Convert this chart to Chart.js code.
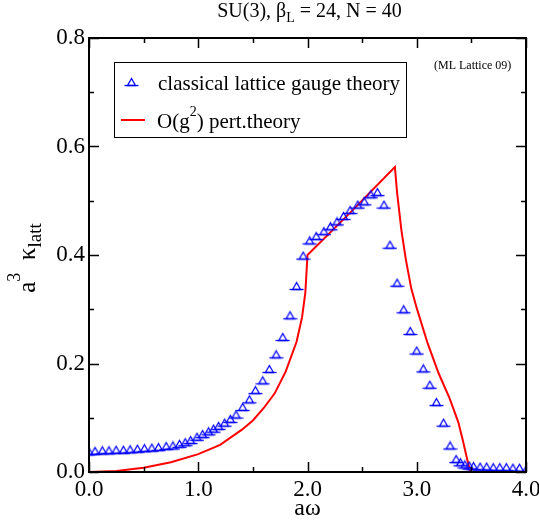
<!DOCTYPE html>
<html>
<head>
<meta charset="utf-8">
<script src="https://cdn.jsdelivr.net/npm/chart.js@4.4.1/dist/chart.umd.min.js"></script>
<style>
  html, body { margin: 0; padding: 0; background: #fff; }
  #wrap { width: 539px; height: 523px; position: relative; }
</style>
</head>
<body>
<div id="wrap"><canvas id="c" width="539" height="523"></canvas></div>
<script>
// Classical lattice gauge theory: frequency aω and a^3 κ_latt
const latticeOmega = [
  0.000, 0.055, 0.122, 0.183, 0.248, 0.315, 0.376, 0.443, 0.507, 0.575,
  0.636, 0.706, 0.768, 0.828, 0.881, 0.930, 0.988, 1.040, 1.094, 1.140,
  1.186, 1.241, 1.294, 1.346, 1.407, 1.468, 1.523, 1.590, 1.651, 1.713,
  1.774, 1.840, 1.900, 1.960, 2.020, 2.080, 2.150, 2.210, 2.270, 2.330,
  2.390, 2.460, 2.520, 2.580, 2.640, 2.700, 2.755, 2.820, 2.880, 2.940,
  3.000, 3.060, 3.120, 3.180, 3.245, 3.305, 3.360, 3.400, 3.440, 3.480,
  3.520, 3.580, 3.640, 3.700, 3.760, 3.820, 3.880, 3.940, 4.000
];
const latticeKappa = [
  0.037, 0.038, 0.039, 0.039, 0.040, 0.040, 0.041, 0.042, 0.043, 0.044,
  0.045, 0.047, 0.048, 0.051, 0.054, 0.058, 0.064, 0.069, 0.074, 0.079,
  0.084, 0.090, 0.097, 0.105, 0.119, 0.133, 0.150, 0.168, 0.189, 0.216,
  0.248, 0.288, 0.342, 0.398, 0.426, 0.434, 0.443, 0.452, 0.461, 0.471,
  0.482, 0.492, 0.498, 0.511, 0.515, 0.492, 0.418, 0.348, 0.299, 0.259,
  0.223, 0.190, 0.160, 0.128, 0.090, 0.048, 0.023, 0.017, 0.013, 0.011,
  0.010, 0.009, 0.009, 0.008, 0.008, 0.008, 0.007, 0.007, 0.003
];

// O(g^2) perturbation theory curve
const pertOmega = [
  0.00, 0.25, 0.50, 0.75, 1.00, 1.20, 1.40, 1.50, 1.60, 1.70,
  1.80, 1.90, 1.95, 1.98, 2.00, 2.40, 2.80, 2.82, 2.86, 2.90,
  2.95, 3.00, 3.10, 3.20, 3.30, 3.38, 3.42, 3.46, 3.49, 4.00
];
const pertKappa = [
  0.000, 0.002, 0.008, 0.018, 0.033, 0.050, 0.078, 0.095, 0.118, 0.145,
  0.185, 0.240, 0.285, 0.330, 0.400, 0.480, 0.562, 0.515, 0.445, 0.392,
  0.338, 0.302, 0.237, 0.182, 0.136, 0.092, 0.060, 0.025, 0.000, 0.000
];

const xTicks = [0, 1, 2, 3, 4];
const xTickLabels = ['0.0', '1.0', '2.0', '3.0', '4.0'];
const yTicks = [0, 0.2, 0.4, 0.6, 0.8];
const yTickLabels = ['0.0', '0.2', '0.4', '0.6', '0.8'];

const SERIF = '"Liberation Serif", "DejaVu Serif", serif';
const BLUE = '#0000ff';
const RED = '#ff0000';

// Triangle marker with a horizontal bar through its base
function makeMarker() {
  const c = document.createElement('canvas');
  c.width = 15; c.height = 11;
  const g = c.getContext('2d');
  g.strokeStyle = BLUE;
  g.lineWidth = 1.3;
  g.beginPath();
  g.moveTo(7.5, 1.5);
  g.lineTo(3.5, 8.5);
  g.lineTo(11.5, 8.5);
  g.closePath();
  g.stroke();
  g.beginPath();
  g.moveTo(0.5, 8.5);
  g.lineTo(14.5, 8.5);
  g.stroke();
  return c;
}
const marker = makeMarker();

function toPoints(xs, ys) { return xs.map((x, i) => ({ x: x, y: ys[i] })); }

// Writes a run of [text, size, dy] pieces starting at x on baseline y
function richText(ctx, pieces, x, y, align) {
  let total = 0;
  const widths = pieces.map(p => { ctx.font = p[1] + 'px ' + SERIF; const w = ctx.measureText(p[0]).width; total += w; return w; });
  let cx = align === 'center' ? x - total / 2 : x;
  ctx.textAlign = 'left';
  pieces.forEach((p, i) => {
    ctx.font = p[1] + 'px ' + SERIF;
    ctx.fillText(p[0], cx, y + p[2]);
    cx += widths[i];
  });
}

// Inward ticks on all four sides, frame, titles and legend
const decorations = {
  id: 'decorations',
  afterDatasetsDraw(chart) {
    const ctx = chart.ctx;
    const a = chart.chartArea;
    const xs = chart.scales.x, ys = chart.scales.y;
    ctx.save();
    ctx.strokeStyle = '#000';
    ctx.lineWidth = 1.5;
    ctx.beginPath();
    for (let v = 0; v <= 4.0001; v += 0.5) {
      const px = Math.round(xs.getPixelForValue(v)) + 0.5;
      const len = Math.abs(v - Math.round(v)) < 1e-6 ? 10 : 5;
      ctx.moveTo(px, a.bottom); ctx.lineTo(px, a.bottom - len);
      ctx.moveTo(px, a.top); ctx.lineTo(px, a.top + len);
    }
    for (let k = 0; k <= 8; k++) {
      const v = k * 0.1;
      const py = Math.round(ys.getPixelForValue(v)) + 0.5;
      const len = k % 2 === 0 ? 10 : 5;
      ctx.moveTo(a.left, py); ctx.lineTo(a.left + len, py);
      ctx.moveTo(a.right, py); ctx.lineTo(a.right - len, py);
    }
    ctx.stroke();
    ctx.lineWidth = 2;
    ctx.strokeRect(a.left, a.top, a.right - a.left, a.bottom - a.top);

    ctx.fillStyle = '#000';
    ctx.textBaseline = 'alphabetic';
    const cx = (a.left + a.right) / 2;

    // chart title
    richText(ctx, [['SU(3), \u03b2', 20, 0], ['L', 14, 5], [' = 24, N = 40', 20, 0]], cx + 2, 17, 'center');

    // x axis title
    richText(ctx, [['a\u03c9', 24, 0]], cx, 515, 'center');

    // y axis title, rotated
    ctx.save();
    ctx.translate(35, 258);
    ctx.rotate(-Math.PI / 2);
    richText(ctx, [['a', 25, 0], ['3', 18, -15], ['  \u03ba', 25, 0], ['latt', 19, 6]], 0, 0, 'center');
    ctx.restore();

    // annotation
    ctx.textAlign = 'left';
    ctx.font = '12px ' + SERIF;
    ctx.fillText('(ML Lattice 09)', 434, 69);

    // legend
    ctx.lineWidth = 1;
    ctx.strokeStyle = '#000';
    ctx.strokeRect(114.5, 62.5, 292, 75);
    ctx.drawImage(marker, 124, 77);
    ctx.font = '21px ' + SERIF;
    ctx.fillText('classical lattice gauge theory', 158, 90);
    ctx.strokeStyle = RED;
    ctx.lineWidth = 2;
    ctx.beginPath(); ctx.moveTo(121, 120); ctx.lineTo(145, 120); ctx.stroke();
    ctx.fillStyle = '#000';
    richText(ctx, [['O(g', 21, 0], ['2', 14, -12], [') pert.theory', 21, 0]], 157, 128, 'left');
    ctx.restore();
  }
};

new Chart(document.getElementById('c'), {
  type: 'scatter',
  data: {
    datasets: [
      {
        label: 'O(g\u00b2) pert.theory',
        data: toPoints(pertOmega, pertKappa),
        showLine: true,
        borderColor: RED,
        borderWidth: 2,
        pointRadius: 0,
        tension: 0,
        order: 2
      },
      {
        label: 'classical lattice gauge theory',
        data: toPoints(latticeOmega, latticeKappa),
        pointStyle: marker,
        pointRadius: 6,
        showLine: false,
        order: 1
      }
    ]
  },
  options: {
    responsive: false,
    animation: false,
    events: [],
    layout: { padding: { top: 38, right: 13, left: 0, bottom: 0 } },
    plugins: { legend: { display: false }, tooltip: { enabled: false }, title: { display: false } },
    scales: {
      x: {
        type: 'linear', min: 0, max: 4,
        afterFit(s) { s.height = 51; s.paddingLeft = 0; s.paddingRight = 0; },
        afterBuildTicks(s) { s.ticks = xTicks.map(v => ({ value: v })); },
        grid: { display: false, drawTicks: false },
        border: { display: false },
        ticks: {
          padding: 4,
          color: '#000',
          font: { family: SERIF, size: 23 },
          maxRotation: 0,
          callback: (v) => { const i = xTicks.indexOf(v); return i >= 0 ? xTickLabels[i] : ''; }
        }
      },
      y: {
        type: 'linear', min: 0, max: 0.8,
        afterFit(s) { s.width = 89; s.paddingTop = 0; s.paddingBottom = 0; },
        afterBuildTicks(s) { s.ticks = yTicks.map(v => ({ value: v })); },
        grid: { display: false, drawTicks: false },
        border: { display: false },
        ticks: {
          padding: 4,
          color: '#000',
          font: { family: SERIF, size: 23 },
          callback: (v) => {
            const i = yTicks.findIndex(t => Math.abs(t - v) < 1e-9);
            return i >= 0 ? yTickLabels[i] : '';
          }
        }
      }
    }
  },
  plugins: [decorations]
});
</script>
</body>
</html>
